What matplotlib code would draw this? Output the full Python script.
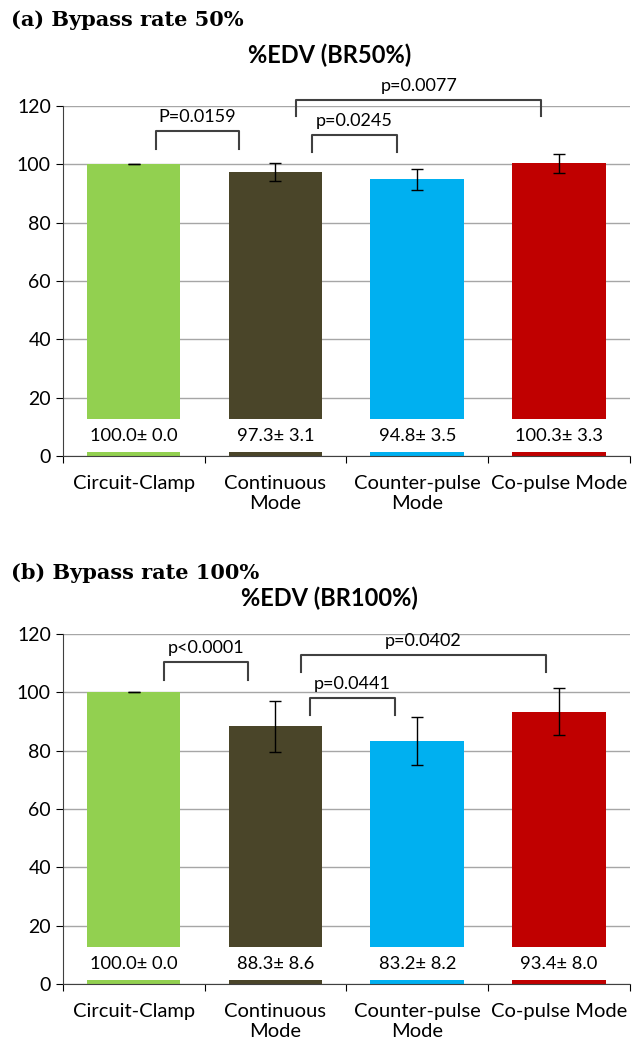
import numpy as np
import matplotlib
matplotlib.use('Agg')
import matplotlib.pyplot as plt
from matplotlib.patches import Rectangle

plt.rcParams['font.family'] = ['Lato', 'DejaVu Sans']

# datos
categorias = ['Circuit-Clamp', 'Continuous\nMode', 'Counter-pulse\nMode', 'Co-pulse Mode']
colores = ['#92d050', '#4a4529', '#00b0f0', '#c00000']

media_50 = [100.0, 97.3, 94.8, 100.3]
de_50 = [0.0, 3.1, 3.5, 3.3]
media_100 = [100.0, 88.3, 83.2, 93.4]
de_100 = [0.0, 8.6, 8.2, 8.0]

# corchetes de significancia: (x izq, x der, y arriba, y abajo, texto)
pvals_50 = [(0.157, 0.746, 111.4, 105.2, 'P=0.0159'),
            (1.146, 2.875, 122.1, 116.6, 'p=0.0077'),
            (1.255, 1.855, 110.0, 104.1, 'p=0.0245')]
pvals_100 = [(0.216, 0.809, 110.5, 104.3, 'p<0.0001'),
             (1.177, 2.908, 112.9, 107.0, 'p=0.0402'),
             (1.245, 1.840, 98.2, 92.4, 'p=0.0441')]

fig = plt.figure(figsize=(6.38, 10.43), dpi=100)


def panel(rect, media, de, pvals, etiqueta, titulo, y_etq, y_tit):
    ax = fig.add_axes(rect)
    x = np.arange(len(categorias))
    ax.bar(x, media, width=0.66, color=colores, zorder=2)
    ax.errorbar(x, media, yerr=de, fmt='none', ecolor='black', elinewidth=1,
                capsize=4.3, capthick=1, zorder=3)
    ax.set_xlim(-0.5, 3.5)
    ax.set_ylim(0, 120)
    ax.set_yticks(np.arange(0, 121, 20))
    ax.yaxis.grid(True, color='#a6a6a6', linewidth=1)
    ax.set_axisbelow(True)
    ax.set_xticks(np.arange(-0.5, 3.6, 1))
    ax.set_xticklabels([])
    ax.set_xticks(x, minor=True)
    ax.set_xticklabels(categorias, minor=True, fontsize=14.5, linespacing=1.2)
    ax.tick_params(axis='x', which='minor', length=0, pad=14)
    ax.tick_params(axis='x', which='major', length=5, direction='out')
    ax.tick_params(axis='y', length=5, labelsize=14)
    for s in ['top', 'right']:
        ax.spines[s].set_visible(False)
    for s in ['left', 'bottom']:
        ax.spines[s].set_color('#404040')

    # cajas de etiquetas de datos
    for i in range(len(x)):
        ax.add_patch(Rectangle((x[i] - 0.33, 1.5), 0.66, 11.2, facecolor='white',
                               edgecolor='none', zorder=4))
        ax.text(x[i], 6.8, f'{media[i]:.1f}\u00b1 {de[i]:.1f}', ha='center', va='center',
                fontsize=13.2, zorder=5)

    for x1, x2, y1, y2, txt in pvals:
        ax.plot([x1, x1, x2, x2], [y2, y1, y1, y2], color='#404040', lw=1.5,
                clip_on=False, zorder=5)
        ax.text((x1 + x2) / 2, y1 + 2.0, txt, ha='center', va='bottom',
                fontsize=13, clip_on=False)

    fig.text(0.018, y_etq, etiqueta, family='DejaVu Serif', fontweight='bold',
             fontsize=15, va='center', ha='left')
    fig.text(0.517, y_tit, titulo, fontweight='bold', fontsize=17,
             va='center', ha='center')
    return ax


panel([0.0983, 0.5628, 0.8892, 0.3356], media_50, de_50, pvals_50,
      '(a) Bypass rate 50%', '%EDV (BR50%)', 1 - 20 / 1043, 1 - 55 / 1043)
panel([0.0983, 0.0566, 0.8892, 0.3355], media_100, de_100, pvals_100,
      '(b) Bypass rate 100%', '%EDV (BR100%)', 1 - 573 / 1043, 1 - 598 / 1043)

plt.savefig('out.png', dpi=100)
